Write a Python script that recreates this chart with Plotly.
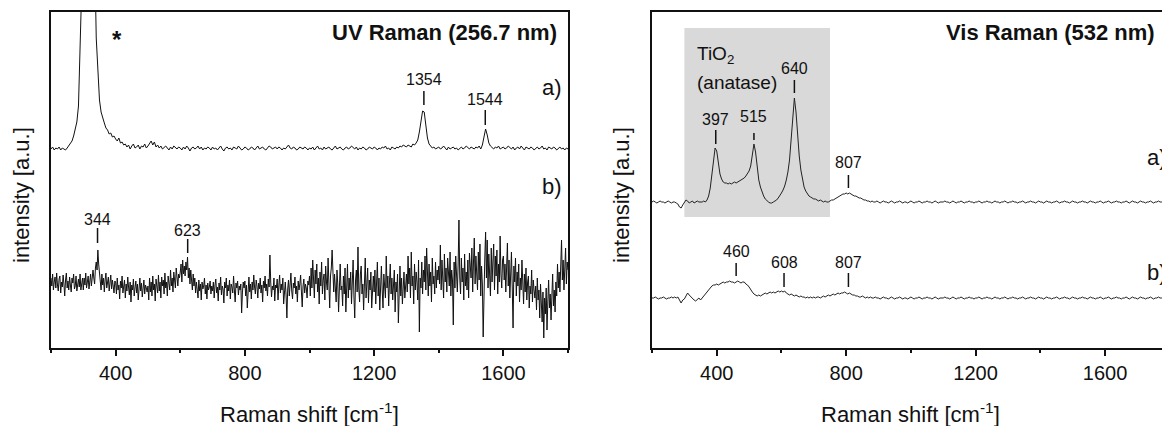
import numpy as np
import plotly.graph_objects as go
from plotly.subplots import make_subplots

# Raman shift grids (cm^-1): 5 cm^-1 spacing, and 2.5 cm^-1 for the noisy UV b) record
shift = np.arange(200, 1801, 5)
shift_fine = np.arange(200, 1800.1, 2.5)

# UV Raman (256.7 nm), spectrum a) - intensity in a.u.
uv_a = [
    199, 201, 198, 200, 199, 201, 198, 200, 199, 198, 200, 202, 204, 207, 212, 218, 226, 242, 285, 360,
    520, 800, 1150, 1300, 1180, 860, 580, 400, 310, 276, 248, 236, 229, 225, 220, 218, 214, 215, 211, 212,
    209, 207, 210, 205, 206, 203, 204, 201, 203, 199, 202, 204, 200, 201, 203, 199, 202, 201, 204, 200,
    202, 205, 207, 203, 206, 201, 203, 200, 202, 199, 201, 202, 200, 198, 201, 199, 202, 200, 199, 201,
    200, 198, 201, 199, 202, 200, 197, 200, 201, 199, 200, 202, 199, 201, 198, 200, 199, 201, 200, 198,
    201, 199, 200, 198, 200, 202, 199, 197, 200, 201, 199, 200, 198, 201, 200, 199, 202, 200, 198, 199,
    201, 200, 198, 199, 201, 200, 198, 200, 202, 199, 200, 201, 199, 198, 200, 202, 201, 199, 200, 201,
    199, 201, 200, 198, 200, 199, 201, 203, 200, 199, 201, 200, 198, 199, 201, 200, 199, 201, 200, 198,
    200, 199, 201, 198, 200, 202, 199, 200, 198, 201, 199, 200, 201, 199, 198, 200, 202, 199, 200, 201,
    199, 198, 200, 201, 199, 200, 202, 200, 199, 201, 198, 200, 199, 201, 200, 198, 199, 201, 200, 199,
    201, 200, 198, 200, 199, 201, 200, 202, 199, 200, 198, 201, 200, 199, 201, 200, 202, 201, 203, 202,
    201, 203, 202, 201, 204, 203, 205, 208, 216, 228, 237, 236, 222, 210, 204, 202, 200, 201, 199, 200,
    201, 199, 200, 202, 200, 198, 201, 199, 200, 201, 199, 200, 198, 200, 201, 199, 200, 202, 200, 199,
    201, 200, 199, 201, 200, 202, 199, 203, 210, 219, 213, 205, 202, 200, 199, 201, 200, 202, 199, 200,
    201, 199, 200, 202, 200, 199, 201, 198, 200, 201, 199, 202, 200, 198, 201, 200, 199, 201, 200, 198,
    200, 201, 199, 200, 202, 199, 200, 198, 201, 200, 199, 201, 200, 198, 200, 201, 199, 200, 198, 200,
    199,
]

# UV Raman (256.7 nm), spectrum b) - on the 2.5 cm^-1 grid
uv_b = [
    70, 62, 74, 58, 66, 71, 60, 75, 63, 57, 69, 72, 55, 66, 61, 73, 64, 52, 68, 75, 60, 67, 58, 71, 63, 56, 70, 65, 74, 59, 62, 72, 57, 66, 69, 61, 74, 58, 65, 70,
    58, 70, 63, 75, 60, 67, 72, 59, 66, 74, 62, 69, 78, 70, 64, 80, 86, 78, 98, 84, 72, 66, 58, 74, 63, 70, 56, 68, 75, 60, 66, 71, 57, 64, 73, 59, 68, 62, 55, 67,
    66, 54, 70, 58, 63, 49, 67, 60, 72, 55, 62, 68, 50, 64, 57, 71, 61, 53, 66, 46, 63, 58, 69, 52, 60, 67, 55, 64, 48, 62, 70, 57, 65, 51, 59, 68, 54, 63, 60, 56,
    62, 48, 70, 56, 66, 52, 72, 58, 64, 47, 69, 60, 55, 73, 57, 66, 50, 71, 62, 68, 54, 75, 60, 66, 52, 72, 64, 58, 78, 62, 70, 56, 76, 66, 60, 80, 68, 62, 74, 70,
    76, 84, 66, 88, 74, 82, 72, 86, 78, 91, 70, 80, 64, 78, 68, 58, 74, 62, 70, 55, 66, 60, 50, 68, 57, 64, 48, 66, 59, 62, 70, 54, 63, 49, 65, 58, 61, 67, 54, 62,
    57, 66, 50, 63, 69, 55, 61, 47, 65, 58, 71, 53, 62, 59, 45, 66, 60, 70, 52, 63, 57, 68, 49, 64, 61, 55, 72, 58, 46, 65, 60, 67, 53, 62, 58, 64, 35, 56, 66, 60,
    67, 52, 63, 40, 60, 71, 56, 64, 49, 66, 58, 73, 61, 54, 68, 62, 50, 65, 59, 70, 55, 63, 46, 67, 60, 72, 57, 64, 52, 69, 61, 93, 66, 51, 62, 58, 70, 47, 63, 60,
    69, 48, 62, 73, 55, 64, 58, 70, 44, 61, 66, 53, 30, 59, 68, 52, 63, 75, 57, 49, 65, 60, 71, 54, 62, 46, 67, 58, 64, 73, 56, 41, 62, 69, 55, 64, 60, 50, 67, 63,
    72, 52, 80, 60, 88, 68, 50, 78, 64, 84, 56, 70, 44, 76, 62, 86, 54, 68, 74, 48, 82, 66, 58, 90, 63, 40, 72, 80, 98, 68, 56, 74, 60, 46, 78, 64, 36, 70, 84, 58,
    62, 42, 72, 54, 80, 36, 64, 84, 50, 70, 58, 76, 44, 66, 88, 52, 30, 68, 78, 56, 101, 60, 46, 74, 82, 54, 64, 38, 70, 90, 50, 62, 80, 45, 68, 58, 76, 40, 64, 72,
    56, 78, 44, 68, 86, 52, 70, 38, 62, 82, 58, 40, 74, 64, 50, 92, 60, 72, 42, 66, 84, 54, 70, 48, 62, 78, 36, 66, 56, 74, 25, 64, 82, 52, 70, 44, 60, 76, 50, 68,
    74, 56, 92, 64, 80, 50, 96, 62, 72, 44, 84, 58, 76, 66, 48, 88, 16, 70, 60, 86, 54, 78, 66, 92, 58, 100, 70, 52, 84, 62, 76, 46, 90, 64, 72, 54, 86, 60, 78, 68,
    82, 64, 103, 58, 88, 72, 50, 94, 66, 80, 56, 90, 70, 62, 96, 52, 78, 68, 23, 86, 60, 92, 74, 56, 84, 128, 70, 54, 90, 66, 80, 48, 94, 62, 76, 58, 88, 50, 95, 72,
    70, 100, 56, 86, 110, 64, 92, 74, 58, 96, 68, 104, 52, 82, 64, 11, 78, 90, 116, 70, 108, 60, 94, 76, 52, 100, 66, 86, 104, 58, 92, 72, 98, 54, 84, 66, 112, 74, 60, 88,
    92, 68, 84, 56, 78, 105, 62, 88, 50, 74, 96, 60, 20, 82, 66, 90, 52, 76, 62, 84, 46, 70, 58, 88, 64, 44, 74, 56, 80, 48, 66, 72, 40, 62, 54, 78, 46, 68, 58, 50,
    62, 38, 70, 48, 58, 30, 64, 44, 26, 56, 10, 50, 34, 60, 18, 46, 68, 40, 54, 28, 62, 74, 42, 58, 36, 66, 52, 84, 60, 76, 56, 92, 108, 68, 88, 58, 80, 100, 64, 86,
    78,
]

# Vis Raman (532 nm), spectrum a)
vis_a = [
    146, 147, 146, 145, 146, 147, 146, 146, 145, 146, 147, 146, 145, 146, 146, 145, 144, 141, 140, 143,
    146, 148, 147, 145, 146, 147, 145, 146, 147, 146, 146, 146, 147, 146, 148, 152, 160, 172, 188, 200,
    197, 184, 174, 169, 166, 165, 165, 164, 165, 164, 165, 166, 165, 166, 167, 168, 169, 170, 172, 174,
    177, 182, 192, 204, 196, 180, 168, 161, 156, 152, 149, 147, 146, 145, 145, 146, 147, 148, 150, 152,
    155, 158, 162, 168, 176, 188, 208, 234, 250, 236, 212, 192, 178, 168, 161, 157, 154, 152, 151, 150,
    149, 149, 148, 147, 148, 147, 146, 147, 146, 146, 147, 148, 148, 149, 150, 151, 152, 153, 154, 154,
    155, 154, 155, 154, 153, 152, 152, 151, 150, 150, 149, 148, 148, 147, 147, 146, 147, 146, 146, 147,
    146, 145, 146, 147, 146, 146, 145, 146, 147, 146, 145, 146, 146, 147, 146, 145, 146, 146, 145, 146,
    147, 146, 145, 146, 146, 147, 146, 145, 146, 146, 147, 146, 146, 145, 146, 147, 146, 145, 146, 146,
    146, 147, 146, 146, 145, 146, 147, 146, 145, 146, 146, 147, 146, 145, 146, 146, 147, 146, 146, 145,
    146, 146, 147, 146, 145, 146, 146, 147, 146, 146, 145, 146, 147, 146, 146, 145, 146, 146, 147, 146,
    145, 146, 146, 147, 146, 146, 145, 146, 146, 147, 146, 145, 146, 146, 147, 146, 146, 145, 146, 147,
    146, 146, 145, 146, 147, 146, 146, 145, 146, 146, 147, 146, 145, 146, 146, 147, 146, 146, 145, 146,
    147, 146, 146, 145, 146, 146, 147, 146, 146, 145, 146, 147, 146, 146, 145, 146, 146, 147, 146, 145,
    146, 146, 147, 146, 145, 146, 146, 147, 146, 146, 145, 146, 146, 147, 146, 145, 146, 147, 146, 146,
    145, 146, 147, 146, 146, 145, 146, 146, 147, 146, 145, 146, 146, 147, 146, 146, 145, 146, 147, 146,
    146,
]

# Vis Raman (532 nm), spectrum b)
vis_b = [
    50, 50, 51, 50, 49, 50, 50, 51, 50, 49, 50, 50, 51, 50, 51, 50, 51, 47, 45, 48,
    49, 52, 55, 53, 51, 50, 48, 47, 49, 50, 48, 50, 53, 55, 57, 59, 61, 62, 63, 63,
    64, 63, 64, 65, 66, 65, 66, 66, 67, 66, 66, 65, 66, 67, 66, 65, 66, 66, 64, 63,
    61, 58, 56, 54, 53, 52, 53, 52, 53, 54, 55, 54, 55, 56, 55, 56, 55, 56, 57, 56,
    57, 56, 57, 55, 54, 53, 54, 53, 52, 53, 52, 51, 52, 51, 51, 50, 51, 50, 51, 50,
    51, 50, 51, 51, 50, 51, 52, 51, 52, 53, 52, 53, 54, 53, 54, 55, 54, 55, 55, 56,
    55, 54, 55, 54, 53, 53, 52, 52, 51, 51, 52, 51, 50, 51, 50, 51, 50, 50, 51, 50,
    50, 49, 50, 51, 50, 50, 49, 50, 51, 50, 49, 50, 50, 51, 50, 49, 50, 50, 49, 50,
    51, 50, 49, 50, 50, 51, 50, 49, 50, 50, 51, 50, 50, 49, 50, 51, 50, 49, 50, 50,
    50, 51, 50, 50, 49, 50, 51, 50, 49, 50, 50, 51, 50, 49, 50, 50, 51, 50, 50, 49,
    50, 50, 51, 50, 49, 50, 50, 51, 50, 50, 49, 50, 51, 50, 50, 49, 50, 50, 51, 50,
    49, 50, 50, 51, 50, 50, 49, 50, 50, 51, 50, 49, 50, 50, 51, 50, 50, 49, 50, 51,
    50, 50, 49, 50, 51, 50, 50, 49, 50, 50, 51, 50, 49, 50, 50, 51, 50, 50, 49, 50,
    51, 50, 50, 49, 50, 50, 51, 50, 50, 49, 50, 51, 50, 50, 49, 50, 50, 51, 50, 49,
    50, 50, 51, 50, 49, 50, 50, 51, 50, 50, 49, 50, 50, 51, 50, 49, 50, 51, 50, 50,
    49, 50, 51, 50, 50, 49, 50, 50, 51, 50, 49, 50, 50, 51, 50, 50, 49, 50, 51, 50,
    50,
]

# Assigned bands (cm^-1) and their labels
uv_a_peaks = [1354, 1544]
uv_b_peaks = [344, 623]
vis_a_peaks = [397, 515, 640, 807]
vis_b_peaks = [460, 608, 807]

# Tick marks under each band label: (line bottom, line top, label centre) in intensity units
uv_a_marks = [(243, 257, 268), (223, 238, 248)]
uv_b_marks = [(105, 120, 128), (95, 109, 117)]
vis_a_marks = [(204, 218, 228), (208, 215, 231), (255, 268, 279), (160, 173, 185)]
vis_b_marks = [(72, 85, 96), (61, 75, 86), (61, 75, 86)]

FONT = "Liberation Sans, Arial, sans-serif"
INK = "#111111"
W, H = 1162, 426
L_PX, R_PX, RR_PX = 51, 568, 652
TOP_PX, BOT_PX = 12, 348

fig = make_subplots(rows=1, cols=2)

fig.add_trace(go.Scatter(x=shift, y=uv_a, mode="lines", line=dict(color=INK, width=1)), row=1, col=1)
fig.add_trace(go.Scatter(x=shift_fine, y=uv_b, mode="lines", line=dict(color=INK, width=1)), row=1, col=1)
fig.add_trace(go.Scatter(x=shift, y=vis_a, mode="lines", line=dict(color="#222222", width=1)), row=1, col=2)
fig.add_trace(go.Scatter(x=shift, y=vis_b, mode="lines", line=dict(color="#222222", width=1)), row=1, col=2)

ydom = [1 - BOT_PX / H, 1 - TOP_PX / H]
xaxis_common = dict(
    showline=True, linecolor=INK, linewidth=1.8, mirror=True,
    ticks="outside", ticklen=6, tickwidth=1.5, tickcolor=INK,
    tick0=400, dtick=400, showgrid=False, zeroline=False,
    tickfont=dict(family=FONT, size=20, color=INK),
    minor=dict(ticks="outside", ticklen=3.5, tickwidth=1.5, tickcolor=INK, dtick=200, tick0=200, showgrid=False),
)
fig.update_xaxes(**xaxis_common)
fig.update_xaxes(range=[200, 1800], domain=[L_PX / W, R_PX / W], row=1, col=1)
# right panel runs past the page edge (1800 lies beyond it)
fig.update_xaxes(range=[200, 1776], domain=[RR_PX / W, 1.0], row=1, col=2)

yaxis_common = dict(
    showline=True, linecolor=INK, linewidth=1.8, showticklabels=False, ticks="",
    showgrid=False, zeroline=False, range=[0, BOT_PX - TOP_PX], domain=ydom,
)
fig.update_yaxes(**yaxis_common)
fig.update_yaxes(mirror=True, row=1, col=1)
fig.update_yaxes(mirror=False, row=1, col=2)

shapes = []
annotations = []

# shaded TiO2 (anatase) band region
shapes.append(dict(type="rect", xref="x2", yref="y2", x0=300, x1=750, y0=131, y1=320,
                   fillcolor="#d9d9d9", line=dict(width=0), layer="below"))

def band_labels(peaks, marks, xr, yr):
    for p, (y0, y1, yt) in zip(peaks, marks):
        shapes.append(dict(type="line", xref=xr, yref=yr, x0=p, x1=p, y0=y0, y1=y1,
                           line=dict(color=INK, width=1.5)))
        annotations.append(dict(x=p, y=yt, xref=xr, yref=yr, text=str(p), showarrow=False,
                                xanchor="center", yanchor="middle",
                                font=dict(family=FONT, size=16, color=INK)))

band_labels(uv_a_peaks, uv_a_marks, "x", "y")
band_labels(uv_b_peaks, uv_b_marks, "x", "y")
band_labels(vis_a_peaks, vis_a_marks, "x2", "y2")
band_labels(vis_b_peaks, vis_b_marks, "x2", "y2")

def txt(text, x, y, xr, yr, size, xanchor="center", bold=False, xshift=0, yanchor="middle"):
    annotations.append(dict(x=x, y=y, xref=xr, yref=yr, text=f"<b>{text}</b>" if bold else text,
                            showarrow=False, xanchor=xanchor, yanchor=yanchor, xshift=xshift,
                            font=dict(family=FONT, size=size, color=INK)))

# panel titles
txt("UV Raman (256.7 nm)", 1, 315, "x domain", "y", 22, xanchor="right", bold=True, xshift=-9)
txt("Vis Raman (532 nm)", 1, 315, "x2 domain", "y2", 22, xanchor="right", bold=True, xshift=-5)

# spectrum tags
txt("a)", 1, 260, "x domain", "y", 22, xanchor="right", xshift=-4)
txt("b)", 1, 161, "x domain", "y", 22, xanchor="right", xshift=-4)
txt("a)", 1724, 190, "x2", "y2", 22, xanchor="left")
txt("b)", 1724, 76, "x2", "y2", 22, xanchor="left")

# marker for the off-scale band
txt("*", 403, 308, "x", "y", 24, bold=True)

# TiO2 (anatase) caption
txt("TiO<sub>2</sub>", 332, 293, "x2", "y2", 19, xanchor="left")
txt("(anatase)", 332, 265, "x2", "y2", 19, xanchor="left")

# axis titles
xt = "Raman shift [cm<sup>-1</sup>]"
annotations.append(dict(x=1000, y=1 - 413 / H, xref="x", yref="paper", text=xt, showarrow=False,
                        xanchor="center", yanchor="middle", font=dict(family=FONT, size=22, color=INK)))
annotations.append(dict(x=1000, y=1 - 413 / H, xref="x2", yref="paper", text=xt, showarrow=False,
                        xanchor="center", yanchor="middle", font=dict(family=FONT, size=22, color=INK)))
for xp in (21, 621):
    annotations.append(dict(x=xp / W, y=1 - 195 / H, xref="paper", yref="paper",
                            text="intensity [a.u.]", textangle=-90, showarrow=False,
                            xanchor="center", yanchor="middle",
                            font=dict(family=FONT, size=22, color=INK)))

fig.update_layout(
    width=W, height=H, margin=dict(l=0, r=0, t=0, b=0),
    paper_bgcolor="white", plot_bgcolor="white", showlegend=False,
    shapes=shapes, annotations=annotations,
)

fig.write_html("out.html", config={"displayModeBar": False})
